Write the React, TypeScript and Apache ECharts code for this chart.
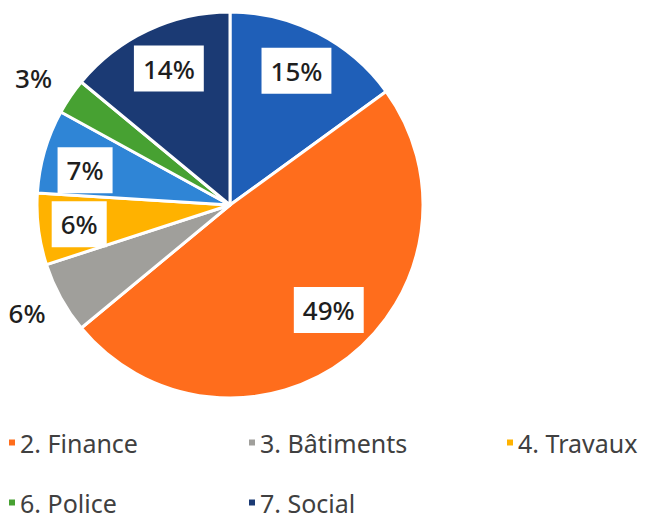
import React, { useEffect, useRef } from "react";
import * as echarts from "echarts";

const categories = [
  "1. Administration",
  "2. Finance",
  "3. Bâtiments",
  "4. Travaux",
  "5. Enseignement",
  "6. Police",
  "7. Social",
];
const values = [15, 49, 6, 6, 7, 3, 14];
const colors = ["#1F5FB8", "#FF6D1C", "#A09F9B", "#FFB200", "#2F85D6", "#47A132", "#1B3A74"];
const boxedLabel = [true, true, false, true, true, false, true];
const labelShift: [number, number][] = [
  [-3, 2],
  [5, -16],
  [3, -5],
  [1, 0],
  [2, 8],
  [-2, 5],
  [4, 2],
];
const legendShown = ["2. Finance", "3. Bâtiments", "4. Travaux", "6. Police", "7. Social"];
const legendPos: [number, number][] = [
  [7, 430],
  [247, 430],
  [505, 430],
  [7, 490],
  [247, 490],
];

const CX = 230;
const CY = 205;
const R = 193;

export default function App() {
  const ref = useRef<HTMLDivElement>(null);
  useEffect(() => {
    document.body.style.margin = "0";
    const chart = echarts.init(ref.current!, undefined, { renderer: "svg" });
    const font = "'Noto Sans', sans-serif";
    const baseData = categories.map((name, i) => ({
      name,
      value: values[i],
      itemStyle: { color: colors[i] },
    }));
    const labelStyle = {
      fontFamily: font,
      fontSize: 26,
      fontWeight: 500,
      color: "#1e1e1e",
      formatter: "{c}%",
    };
    const shiftLayout = (p: any) => ({ dx: labelShift[p.dataIndex][0], dy: labelShift[p.dataIndex][1] });
    chart.setOption({
      animation: false,
      legend: legendShown.map((name, i) => ({
        data: [name],
        left: legendPos[i][0],
        top: legendPos[i][1],
        padding: 0,
        icon: "rect",
        itemWidth: 8,
        itemHeight: 8,
        selectedMode: false,
        textStyle: { fontFamily: font, fontSize: 25, color: "#404040", padding: [0, 0, 0, -1] },
      })),
      series: [
        {
          type: "pie",
          center: [CX, CY],
          radius: [0, R],
          startAngle: 90,
          clockwise: true,
          silent: true,
          label: { show: false },
          labelLine: { show: false },
          emphasis: { disabled: true },
          itemStyle: { borderColor: "#ffffff", borderWidth: 3 },
          data: baseData,
        },
        {
          type: "pie",
          center: [CX, CY],
          radius: [107, R],
          startAngle: 90,
          clockwise: true,
          silent: true,
          emphasis: { disabled: true },
          labelLine: { show: false },
          labelLayout: shiftLayout,
          itemStyle: { color: "rgba(0,0,0,0)", borderWidth: 0 },
          data: categories.map((name, i) => ({
            name,
            value: values[i],
            itemStyle: { color: "rgba(0,0,0,0)" },
            label: {
              show: boxedLabel[i],
              position: "inside",
              ...labelStyle,
              backgroundColor: "#ffffff",
              padding: [8, 9, 8, 9],
              lineHeight: 30,
            },
          })),
        },
        {
          type: "pie",
          center: [CX, CY],
          radius: [213, 251],
          startAngle: 90,
          clockwise: true,
          silent: true,
          emphasis: { disabled: true },
          labelLine: { show: false },
          labelLayout: shiftLayout,
          itemStyle: { color: "rgba(0,0,0,0)", borderWidth: 0 },
          data: categories.map((name, i) => ({
            name,
            value: values[i],
            itemStyle: { color: "rgba(0,0,0,0)" },
            label: {
              show: !boxedLabel[i],
              position: "inside",
              ...labelStyle,
            },
          })),
        },
      ],
    });
    return () => chart.dispose();
  }, []);
  return <div ref={ref} style={{ width: 654, height: 518 }} />;
}
